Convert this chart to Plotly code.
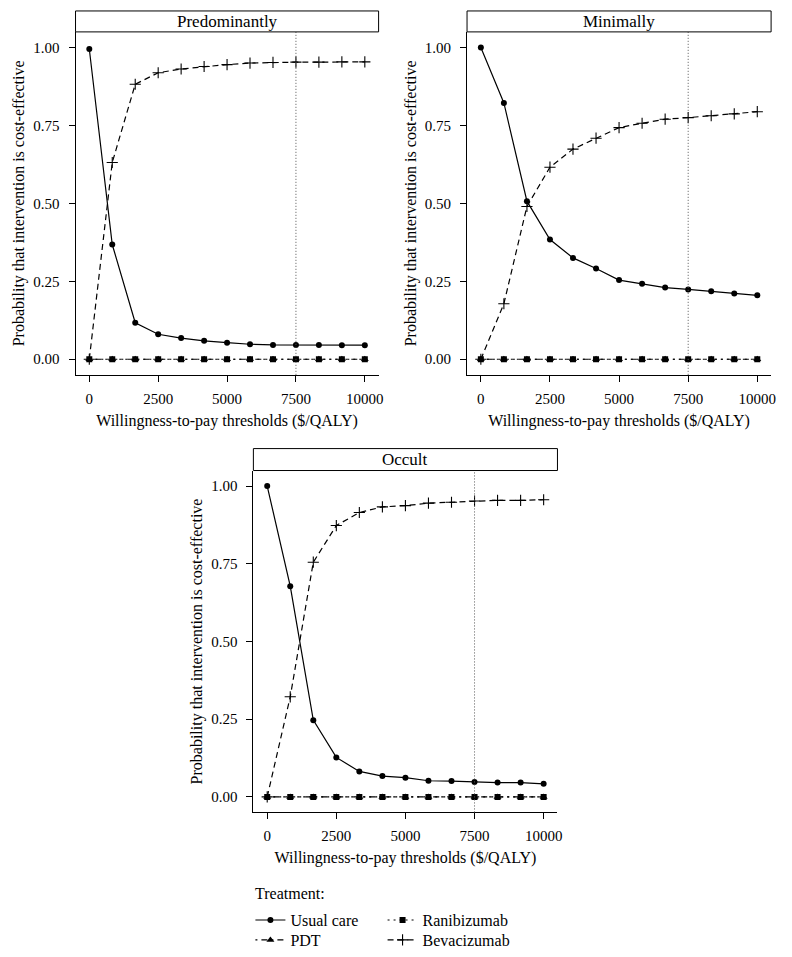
import plotly.graph_objects as go

W, H = 792, 957
FONT = "Liberation Serif, Times New Roman, serif"

wtp = [0, 833, 1667, 2500, 3333, 4167, 5000, 5833, 6667, 7500, 8333, 9167, 10000]

panels = ["Predominantly", "Minimally", "Occult"]

usual_care = {
    "Predominantly": [0.995, 0.368, 0.117, 0.080, 0.068, 0.059, 0.053, 0.048, 0.046, 0.046, 0.046, 0.045, 0.045],
    "Minimally": [1.000, 0.822, 0.507, 0.384, 0.325, 0.291, 0.254, 0.242, 0.230, 0.224, 0.218, 0.211, 0.205],
    "Occult": [1.000, 0.678, 0.247, 0.127, 0.082, 0.067, 0.062, 0.052, 0.051, 0.048, 0.046, 0.046, 0.042],
}
pdt = {p: [0.0] * 13 for p in panels}
ranibizumab = {p: [0.0] * 13 for p in panels}
bevacizumab = {
    "Predominantly": [0.000, 0.631, 0.882, 0.919, 0.931, 0.939, 0.945, 0.950, 0.952, 0.953, 0.953, 0.954, 0.954],
    "Minimally": [0.000, 0.178, 0.490, 0.616, 0.674, 0.709, 0.743, 0.757, 0.770, 0.775, 0.781, 0.787, 0.794],
    "Occult": [0.000, 0.322, 0.755, 0.873, 0.915, 0.933, 0.937, 0.945, 0.948, 0.952, 0.954, 0.954, 0.956],
}

x_ticks = [0, 2500, 5000, 7500, 10000]
x_tick_labels = ["0", "2500", "5000", "7500", "10000"]
y_ticks = [0, 0.25, 0.5, 0.75, 1.0]
y_tick_labels = ["0.00", "0.25", "0.50", "0.75", "1.00"]
threshold = 7500

# panel boxes in pixels: (left, right, strip_top, plot_top, plot_bottom)
boxes = [(76, 381, 11, 32, 376), (470, 776, 11, 32, 376), (255, 561, 450, 472, 815)]

# (name, data, dash, marker, size, legend id, legend x px, legend row centre px)
series = [
    ("Usual care", usual_care, "solid", "circle", 6, "legend", 252, 923),
    ("Ranibizumab", ranibizumab, "2px,4px", "square", 6, "legend2", 385, 923),
    ("PDT", pdt, "2px,4px,6px,4px", "triangle-up", 7, "legend3", 252, 943),
    ("Bevacizumab", bevacizumab, "6px,4px", "cross-thin", 8, "legend4", 385, 943),
]

fig = go.Figure()
for i, p in enumerate(panels):
    xa = "x" if i == 0 else f"x{i+1}"
    ya = "y" if i == 0 else f"y{i+1}"
    for name, data, dash, sym, size, leg, lx, ly in series:
        fig.add_trace(go.Scatter(
            x=wtp, y=data[p], mode="lines+markers", name=name,
            line=dict(color="black", width=1.2, dash=dash),
            marker=dict(symbol=sym, size=size, color="black",
                        line=dict(color="black", width=1.1 if sym == "cross-thin" else 0)),
            xaxis=xa, yaxis=ya, showlegend=(i == 0), legend=leg,
        ))

axis_font = dict(family=FONT, size=15, color="black")
title_font = dict(family=FONT, size=16, color="black")
shapes = []
annotations = []
for i, (l, r, st, t, b) in enumerate(boxes):
    sfx = "" if i == 0 else str(i + 1)
    xd = [l / W, r / W]
    yd = [1 - b / H, 1 - t / H]
    fig.layout["xaxis" + sfx] = dict(
        domain=xd, range=[-500, 10500], tickvals=x_ticks, ticktext=x_tick_labels,
        showgrid=False, zeroline=False,
        showline=True, linecolor="black", linewidth=1, ticks="outside", ticklen=6,
        tickcolor="black", tickfont=axis_font, anchor="y" + sfx, ticklabelstandoff=4,
        title=dict(text="Willingness-to-pay thresholds ($/QALY)", font=title_font, standoff=8),
    )
    fig.layout["yaxis" + sfx] = dict(
        domain=yd, range=[-0.05, 1.05], tickvals=y_ticks, ticktext=y_tick_labels,
        showgrid=False, zeroline=False, showline=True, linecolor="black", linewidth=1,
        ticks="outside", ticklen=6, tickcolor="black", tickfont=axis_font,
        anchor="x" + sfx, ticklabelstandoff=6,
        title=dict(text="Probability that intervention is cost-effective", font=title_font, standoff=4),
    )
    shapes.append(dict(type="line", xref="x" + sfx, yref="y" + sfx + " domain",
                       x0=threshold, x1=threshold, y0=0, y1=1,
                       line=dict(color="#555555", width=1, dash="1px,2px")))
    shapes.append(dict(type="rect", xref="x" + sfx + " domain", yref="paper",
                       x0=0, x1=1, y0=1 - t / H, y1=1 - st / H,
                       line=dict(color="black", width=1), fillcolor="white"))
    annotations.append(dict(text=panels[i], xref="x" + sfx + " domain", yref="paper",
                            x=0.5, y=1 - (st + t) / 2 / H, showarrow=False,
                            font=dict(family=FONT, size=17, color="black"),
                            xanchor="center", yanchor="middle"))

leg_font = dict(family=FONT, size=16, color="black")
annotations.append(dict(text="Treatment:", xref="paper", yref="paper",
                        x=255 / W, y=1 - 896 / H, showarrow=False, font=leg_font,
                        xanchor="left", yanchor="middle"))

legends = {}
for name, data, dash, sym, size, leg, lx, ly in series:
    legends[leg] = dict(x=lx / W, y=1 - ly / H, xanchor="left", yanchor="middle",
                        orientation="v", font=leg_font, itemwidth=30,
                        bgcolor="rgba(0,0,0,0)", borderwidth=0)

fig.update_layout(
    width=W, height=H, margin=dict(l=0, r=0, t=0, b=0),
    paper_bgcolor="white", plot_bgcolor="white",
    font=dict(family=FONT, size=15, color="black"),
    shapes=shapes, annotations=annotations, hovermode=False,
    **legends,
)

fig.write_html("out.html", config={"displayModeBar": False, "staticPlot": True},
               post_script="document.body.style.margin='0px';")
